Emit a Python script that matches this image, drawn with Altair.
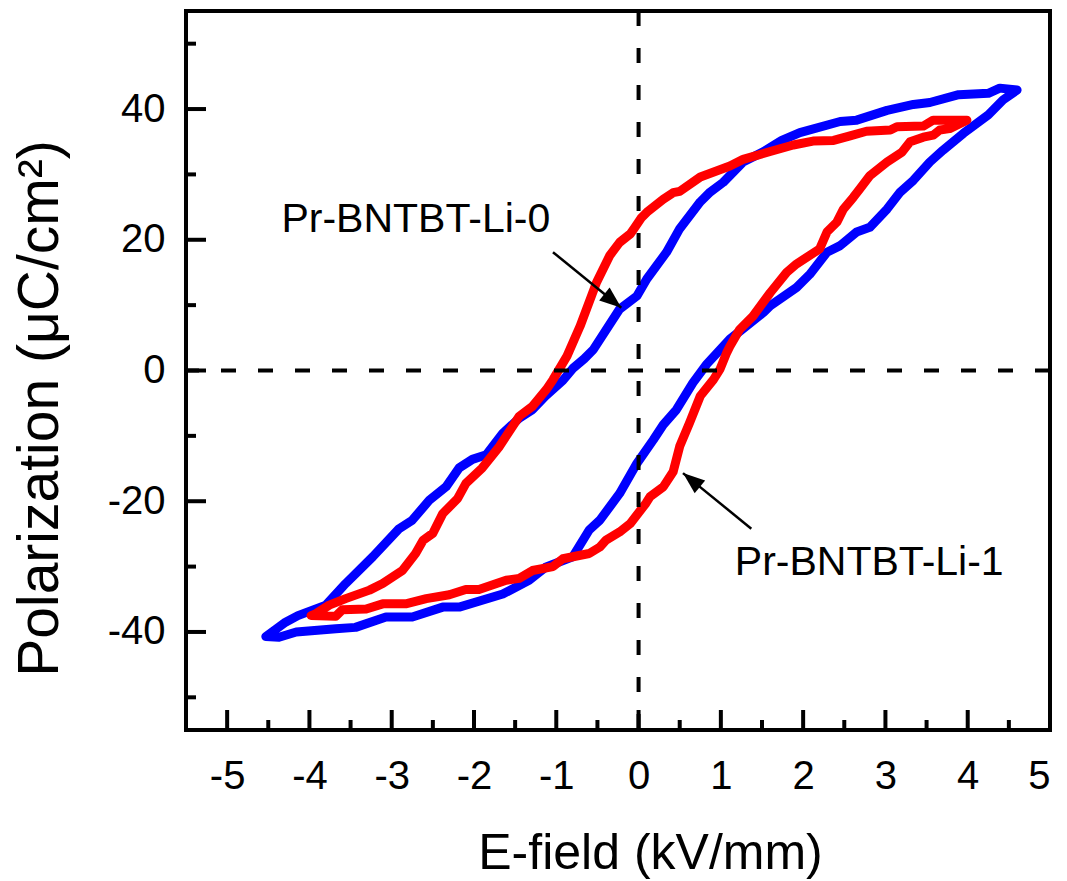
import math
import altair as alt
import pandas as pd

# ---------------- data ----------------
# Pr-BNTBT-Li-0 (blue): from the +E tip along the upper branch to the -E tip, then the lower branch back
li0_E = [4.60, 4.39, 4.25, 3.89, 3.54, 3.34, 3.02, 2.65, 2.45, 1.96, 1.74, 1.52, 1.27, 1.03, 0.87,
         0.75, 0.50, 0.34, 0.10, -0.02, -0.23, -0.55, -0.66, -0.80, -0.92, -1.13, -1.29, -1.45,
         -1.65, -1.85, -2.02, -2.18, -2.34, -2.54, -2.75, -2.91, -3.23, -3.56, -3.80, -4.14, -4.29,
         -4.53,
         -4.37, -4.16, -3.68, -3.44, -3.07, -2.75, -2.38, -2.18, -1.65, -1.33, -1.13, -0.80, -0.60,
         -0.47, -0.23, -0.02, 0.18, 0.30, 0.46, 0.66, 0.83, 1.11, 1.52, 1.60, 1.92, 2.08, 2.29,
         2.45, 2.65, 2.81, 3.02, 3.18, 3.34, 3.54, 3.70, 3.95, 4.25, 4.43, 4.60]
li0_P = [42.9, 43.2, 42.4, 42.2, 41.0, 40.7, 39.8, 38.3, 38.1, 36.4, 35.2, 33.5, 31.9, 28.8, 27.3,
         25.8, 21.7, 18.1, 14.0, 11.4, 9.4, 3.2, 1.8, 0.3, -1.5, -3.9, -6.0, -7.3,
         -9.6, -12.9, -13.6, -14.9, -17.8, -19.8, -22.9, -24.2, -28.5, -32.6, -35.9, -37.5, -38.5,
         -40.7,
         -40.8, -40.0, -39.5, -39.3, -37.7, -37.7, -36.2, -36.2, -34.2, -32.1, -30.1, -28.5, -24.4,
         -22.9, -18.8, -14.2, -10.6, -8.3, -6.0, -1.9, 1.0, 4.8, 8.9, 9.9, 12.7, 14.7, 18.1,
         19.1, 21.2, 21.9, 24.7, 27.3, 29.1, 31.9, 33.7, 36.3, 39.1, 41.4, 42.9]

# Pr-BNTBT-Li-1 (red)
li1_E = [3.99, 3.58, 3.46, 3.14, 3.06, 2.77, 2.57, 2.37, 2.12, 1.88, 1.60, 1.27, 1.11, 0.75, 0.50,
         0.42, 0.30, 0.10, 0.03, -0.05, -0.10, -0.23, -0.35, -0.51, -0.71, -0.87, -1.04, -1.12,
         -1.29, -1.45, -1.69, -1.90, -2.10, -2.20, -2.38, -2.50, -2.62, -2.71, -2.87, -3.11, -3.27,
         -3.56, -3.76, -3.92, -3.98,
         -3.68, -3.60, -3.31, -3.11, -2.83, -2.58, -2.30, -2.10, -1.94, -1.61, -1.45, -1.29, -1.04,
         -0.92, -0.60, -0.47, -0.40, -0.23, -0.10, 0.09, 0.14, 0.30, 0.42, 0.50, 0.62, 0.75, 0.91,
         0.99, 1.07, 1.11, 1.23, 1.39, 1.60, 1.80, 1.92, 2.20, 2.29, 2.41, 2.49, 2.61, 2.69, 2.81,
         3.02, 3.20, 3.30, 3.46, 3.58, 3.66, 3.78, 3.99]
li1_P = [38.3, 38.3, 37.4, 37.3, 36.8, 36.6, 35.9, 35.2, 35.1, 34.5, 33.5, 32.3, 31.3, 29.6, 27.4,
         27.2, 26.2, 24.2, 23.3, 21.8, 20.9, 19.6, 17.6, 13.5, 6.8, 2.2, -1.4, -2.9,
         -5.5, -7.0, -11.6, -14.9, -17.3, -19.6, -21.9, -24.9, -26.0, -28.0, -30.6, -32.6, -33.6,
         -34.9, -35.9, -37.2, -37.5,
         -37.6, -36.6, -36.5, -35.7, -35.7, -34.9, -34.3, -33.5, -33.5, -32.1, -31.8, -30.6, -30.0,
         -28.8, -28.0, -27.0, -26.0, -24.7, -23.4, -20.3, -19.3, -17.8, -15.5, -11.6, -8.0, -3.9, -1.4,
         0.2, 2.7, 3.7, 6.3, 8.3, 11.9, 15.0, 16.3, 18.6, 21.2, 22.7, 24.7, 26.5, 27.8, 29.8,
         31.9, 33.4, 35.0, 35.7, 36.0, 36.8, 37.0, 38.3]

series_names = ["Pr-BNTBT-Li-0", "Pr-BNTBT-Li-1"]
series_colors = ["#0000FF", "#FF0000"]

x_ticks_major = [-5, -4, -3, -2, -1, 0, 1, 2, 3, 4, 5]
x_ticks_minor = [-4.5, -3.5, -2.5, -1.5, -0.5, 0.5, 1.5, 2.5, 3.5, 4.5]
y_ticks_major = [-40, -20, 0, 20, 40]
y_ticks_minor = [-50, -30, -10, 10, 30, 50]

label_text = ["Pr-BNTBT-Li-0", "Pr-BNTBT-Li-1"]
label_E = [-4.34, 1.17]
label_P = [21.2, -31.3]
arrow_tail_E = [-1.04, 1.37]
arrow_tail_P = [18.1, -24.2]
arrow_tip_E = [-0.21, 0.54]
arrow_tip_P = [9.6, -15.7]

# ---------------- layout ----------------
W, H = 864, 719
X_DOMAIN = [-5.5, 5]
Y_DOMAIN = [-55, 55]
FONT = "Liberation Sans"

xs = alt.Scale(domain=X_DOMAIN, nice=False, zero=False)
ys = alt.Scale(domain=Y_DOMAIN, nice=False, zero=False)

rows = []
for name, Es, Ps in [(series_names[0], li0_E, li0_P), (series_names[1], li1_E, li1_P)]:
    for i, (e, p) in enumerate(zip(Es, Ps)):
        rows.append({"series": name, "i": i, "E": e, "P": p})
loops = pd.DataFrame(rows)

x_axis = alt.Axis(values=x_ticks_major, ticks=False, domain=False, grid=False,
                  labelFontSize=40, labelPadding=26, labelExpr="'' + datum.value",
                  title="E-field (kV/mm)", titleFontSize=50, titlePadding=32, titleX=464)
y_axis = alt.Axis(values=y_ticks_major, ticks=False, domain=False, grid=False,
                  labelFontSize=40, labelPadding=21, labelExpr="'' + datum.value",
                  title="Polarization (μC/cm²)", titleFontSize=57, titlePadding=38, titleY=397)


def X(field):
    return alt.X(field, scale=xs, axis=x_axis)


def Y(field):
    return alt.Y(field, scale=ys, axis=y_axis)


lines = alt.Chart(loops).mark_line(strokeWidth=9, strokeCap="round", strokeJoin="round").encode(
    x=X("E:Q"),
    y=Y("P:Q"),
    color=alt.Color("series:N", scale=alt.Scale(domain=series_names, range=series_colors), legend=None),
    order="i:Q",
)

zero_v = alt.Chart(pd.DataFrame({"v": [0]})).mark_rule(
    color="black", strokeWidth=4, strokeDash=[15, 22]).encode(x=X("v:Q"))
zero_h = alt.Chart(pd.DataFrame({"v": [0]})).mark_rule(
    color="black", strokeWidth=4, strokeDash=[15, 22]).encode(y=Y("v:Q"))


def xtick(vals, length):
    return alt.Chart(pd.DataFrame({"v": vals})).mark_rule(color="black", strokeWidth=4).encode(
        x=X("v:Q"), y=alt.value(H), y2=alt.value(H - length))


def ytick(vals, length):
    return alt.Chart(pd.DataFrame({"v": vals})).mark_rule(color="black", strokeWidth=4).encode(
        y=Y("v:Q"), x=alt.value(0), x2=alt.value(length))


labels = alt.Chart(pd.DataFrame({"t": label_text, "E": label_E, "P": label_P})).mark_text(
    font=FONT, fontSize=41, align="left", baseline="alphabetic", color="black").encode(
    x=X("E:Q"), y=Y("P:Q"), text="t:N")

pxE = W / (X_DOMAIN[1] - X_DOMAIN[0])
pxP = H / (Y_DOMAIN[1] - Y_DOMAIN[0])
angles = []
for tE, tP, hE, hP in zip(arrow_tail_E, arrow_tail_P, arrow_tip_E, arrow_tip_P):
    dx = (hE - tE) * pxE
    dy = -(hP - tP) * pxP
    angles.append(math.degrees(math.atan2(dx, -dy)) % 360)

arrows_df = pd.DataFrame({"tE": arrow_tail_E, "tP": arrow_tail_P,
                          "hE": arrow_tip_E, "hP": arrow_tip_P, "ang": angles})
arrow_lines = alt.Chart(arrows_df).mark_rule(color="black", strokeWidth=2.5).encode(
    x=X("tE:Q"), y=Y("tP:Q"), x2="hE:Q", y2="hP:Q")
arrow_heads = alt.Chart(arrows_df).mark_point(
    shape="M0,0 L0.38,1 L-0.38,1 Z", filled=True, size=1900, color="black", opacity=1,
    strokeWidth=0).encode(
    x=X("hE:Q"), y=Y("hP:Q"),
    angle=alt.Angle("ang:Q", scale=None))

chart = alt.layer(
    lines, zero_v, zero_h,
    xtick(x_ticks_major, 20), xtick(x_ticks_minor, 10),
    ytick(y_ticks_major, 20), ytick(y_ticks_minor, 10),
    arrow_lines, arrow_heads, labels,
).properties(
    width=W, height=H,
    padding={"left": 186, "top": 11, "right": 17, "bottom": 151},
    autosize=alt.AutoSizeParams(type="none"),
    background="white",
).configure_view(
    stroke="black", strokeWidth=4
).configure_axis(
    labelFont=FONT, titleFont=FONT, labelColor="black", titleColor="black",
    titleFontWeight="normal",
)

chart.save("out.html", embed_options={"renderer": "svg", "actions": False})
